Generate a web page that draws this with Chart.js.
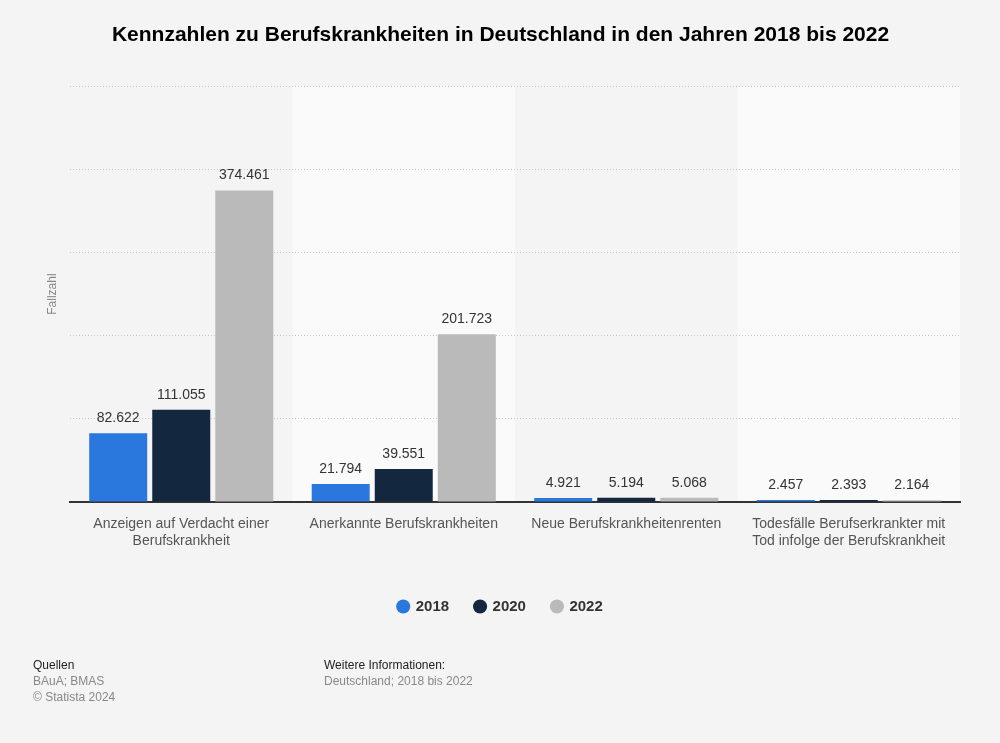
<!DOCTYPE html>
<html lang="de">
<head>
<meta charset="utf-8">
<title>Kennzahlen zu Berufskrankheiten</title>
<script src="https://cdn.jsdelivr.net/npm/chart.js@4"></script>
<style>
    body { margin: 0; background: #f4f4f4; font-family: "Liberation Sans", Arial, sans-serif; }
    .wrap { position: relative; width: 1000px; height: 743px; }
    .foot { position: absolute; font-size: 12px; line-height: 16px; }
    .foot .head { color: #222; }
    .foot .sub { color: #888; }
</style>
</head>
<body>
<div class="wrap">
    <canvas id="chart" width="1000" height="743"></canvas>
    <div class="foot" style="left:33px; top:657px;">
        <div class="head">Quellen</div>
        <div class="sub">BAuA; BMAS</div>
        <div class="sub">© Statista 2024</div>
    </div>
    <div class="foot" style="left:324px; top:657px;">
        <div class="head">Weitere Informationen:</div>
        <div class="sub">Deutschland; 2018 bis 2022</div>
    </div>
</div>
<script>
// Data
const categories = [
    ['Anzeigen auf Verdacht einer', 'Berufskrankheit'],
    'Anerkannte Berufskrankheiten',
    'Neue Berufskrankheitenrenten',
    ['Todesfälle Berufserkrankter mit', 'Tod infolge der Berufskrankheit']
];
const years = ['2018', '2020', '2022'];
const values2018 = [82622, 21794, 4921, 2457];
const values2020 = [111055, 39551, 5194, 2393];
const values2022 = [374461, 201723, 5068, 2164];
const yTicks = [0, 100000, 200000, 300000, 400000, 500000];

const colors = ['#2a77dd', '#13273f', '#bababa'];

// alternating category background bands
const bandPlugin = {
    id: 'bands',
    beforeDraw(chart) {
        const { ctx, chartArea, scales } = chart;
        const x = scales.x;
        const step = (chartArea.right - chartArea.left) / categories.length;
        ctx.save();
        ctx.fillStyle = '#fafafa';
        for (let i = 1; i < categories.length; i += 2) {
            const cx = x.getPixelForValue(i);
            ctx.fillRect(cx - step / 2, chartArea.top, step, chartArea.bottom - chartArea.top);
        }
        ctx.restore();
    }
};

// value labels on top of the bars
const valueLabels = {
    id: 'valueLabels',
    afterDatasetsDraw(chart) {
        const { ctx } = chart;
        ctx.save();
        ctx.font = '14px "Liberation Sans", Arial, sans-serif';
        ctx.fillStyle = '#333';
        ctx.textAlign = 'center';
        ctx.textBaseline = 'bottom';
        chart.data.datasets.forEach((ds, i) => {
            chart.getDatasetMeta(i).data.forEach((bar, j) => {
                ctx.fillText(ds.data[j].toLocaleString('de-DE'), bar.x, bar.y - 8);
            });
        });
        ctx.restore();
    }
};

new Chart(document.getElementById('chart'), {
    type: 'bar',
    data: {
        labels: categories,
        datasets: years.map((y, i) => ({
            label: y,
            data: [values2018, values2020, values2022][i],
            backgroundColor: colors[i],
            categoryPercentage: 0.85,
            barPercentage: 0.92
        }))
    },
    options: {
        responsive: false,
        animation: false,
        layout: { padding: { left: 41, right: 40, top: 0, bottom: 119 } },
        plugins: {
            title: {
                display: true,
                text: 'Kennzahlen zu Berufskrankheiten in Deutschland in den Jahren 2018 bis 2022',
                color: '#000',
                font: { family: '"Liberation Sans", Arial, sans-serif', size: 21, weight: 'bold' },
                padding: { top: 23, bottom: 38 }
            },
            legend: {
                position: 'bottom',
                labels: {
                    usePointStyle: true,
                    pointStyle: 'circle',
                    boxWidth: 10,
                    boxHeight: 10,
                    padding: 26,
                    color: '#333',
                    font: { family: '"Liberation Sans", Arial, sans-serif', size: 15, weight: 'bold' }
                }
            },
            tooltip: { enabled: false }
        },
        scales: {
            x: {
                grid: { display: false },
                border: { color: '#333', width: 2 },
                ticks: {
                    color: '#555',
                    padding: 6,
                    maxRotation: 0,
                    font: { family: '"Liberation Sans", Arial, sans-serif', size: 14 }
                },
                afterFit(scale) { scale.height = 71; }
            },
            y: {
                min: 0,
                max: 500000,
                afterBuildTicks(scale) { scale.ticks = yTicks.map(v => ({ value: v })); },
                ticks: { display: false },
                grid: { color: '#c8c8c8', lineWidth: 1, drawTicks: false },
                border: { display: false, dash: [1, 2] },
                title: {
                    display: true,
                    text: 'Fallzahl',
                    color: '#888',
                    font: { family: '"Liberation Sans", Arial, sans-serif', size: 12 }
                },
                afterFit(scale) { scale.width = 29; }
            }
        }
    },
    plugins: [bandPlugin, valueLabels]
});
</script>
</body>
</html>
